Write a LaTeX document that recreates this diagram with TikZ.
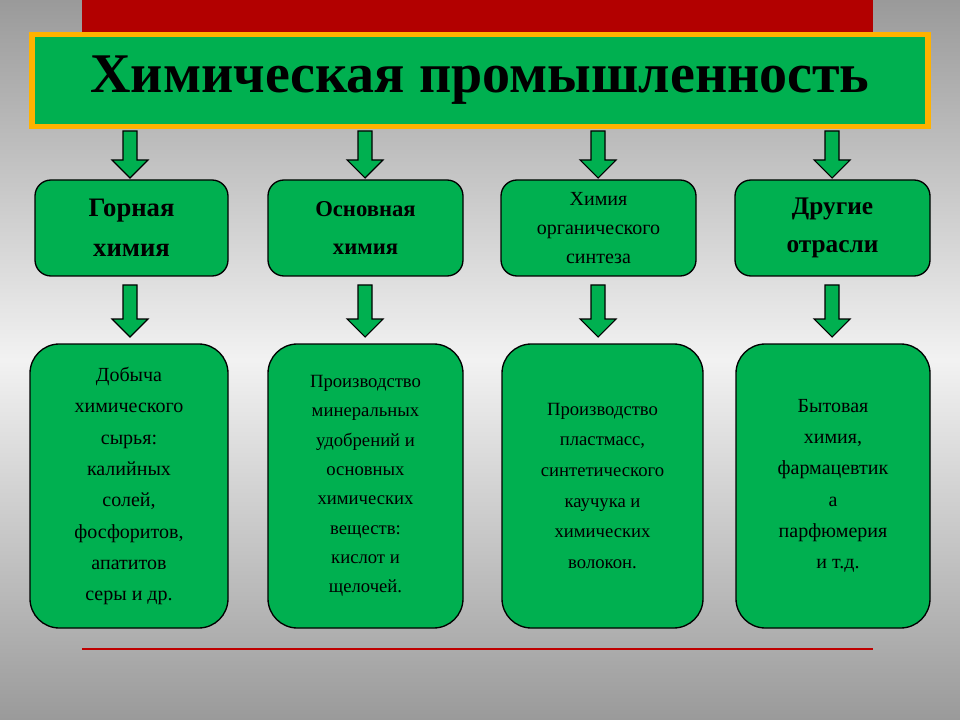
\documentclass[tikz,border=0pt]{standalone}
\usepackage{fontspec}
\setmainfont{Liberation Serif}
\begin{document}
\begin{tikzpicture}[x=0.75pt,y=-0.75pt,
  box/.style={draw=black,line width=1pt,fill=grn,rounded corners=12pt,align=center,inner sep=0pt},
  big/.style={draw=black,line width=1pt,fill=grn,rounded corners=22pt,align=center,inner sep=0pt},
  arr/.style={draw=black,line width=0.8pt,fill=grn}]
\definecolor{grn}{HTML}{00B050}
\definecolor{bgm}{HTML}{F2F2F2}
\definecolor{bgd}{HTML}{9A9A9A}
\shade[top color=bgd,bottom color=bgm] (0,0) rectangle (960,360);
\shade[top color=bgm,bottom color=bgd] (0,360) rectangle (960,720);
\useasboundingbox (0,0) rectangle (960,720);
\fill[red!70!black] (82,0) rectangle (873,36);
\node[draw=orange!60!yellow,line width=4pt,fill=grn,minimum width=896*0.75pt,minimum height=92*0.75pt,inner sep=0pt,font=\fontsize{42}{44}\selectfont\bfseries] (title) at (480,80.5) {Химическая промышленность};
\newcommand\dnarrow[3]{\draw[arr] (#1-7,#2) -- (#1+7,#2) -- (#1+7,#3-18) -- (#1+18,#3-18) -- (#1,#3) -- (#1-18,#3-18) -- (#1-7,#3-18) -- cycle;}
\foreach \x in {130,365,598,832}{\dnarrow{\x}{131}{178}\dnarrow{\x}{285}{337}}
\node[box,minimum width=193*0.75pt,minimum height=96*0.75pt,font=\fontsize{20}{30}\selectfont\bfseries] (m1) at (131.5,228) {Горная\\химия};
\node[box,minimum width=195*0.75pt,minimum height=96*0.75pt,font=\fontsize{17}{28}\selectfont\bfseries] (m2) at (365.5,228) {Основная\\химия};
\node[box,minimum width=195*0.75pt,minimum height=96*0.75pt,font=\fontsize{15}{22}\selectfont] (m3) at (598.5,228) {Химия\\органического\\синтеза};
\node[box,minimum width=195*0.75pt,minimum height=96*0.75pt,font=\fontsize{19}{29}\selectfont\bfseries] (m4) at (832.5,228) {Другие\\отрасли};
\node[big,minimum width=198*0.75pt,minimum height=284*0.75pt,font=\fontsize{15}{23.5}\selectfont] (b1) at (129,486) {Добыча\\химического\\сырья:\\калийных\\солей,\\фосфоритов,\\апатитов\\серы и др.};
\node[big,minimum width=195*0.75pt,minimum height=284*0.75pt,font=\fontsize{14}{22}\selectfont] (b2) at (365.5,486) {Производство\\минеральных\\удобрений и\\основных\\химических\\веществ:\\кислот и\\щелочей.};
\node[big,minimum width=201*0.75pt,minimum height=284*0.75pt,font=\fontsize{14}{23}\selectfont] (b3) at (602.5,486) {Производство\\пластмасс,\\синтетического\\каучука и\\химических\\волокон.};
\node[big,minimum width=194*0.75pt,minimum height=284*0.75pt,font=\fontsize{15}{23.5}\selectfont] (b4) at (833,486) {Бытовая\\химия,\\фармацевтик\\а\\парфюмерия\\\ \ и т.д.};
\draw[red!75!black,line width=1.5pt] (82,649) -- (873,649);
\end{tikzpicture}
\end{document}
